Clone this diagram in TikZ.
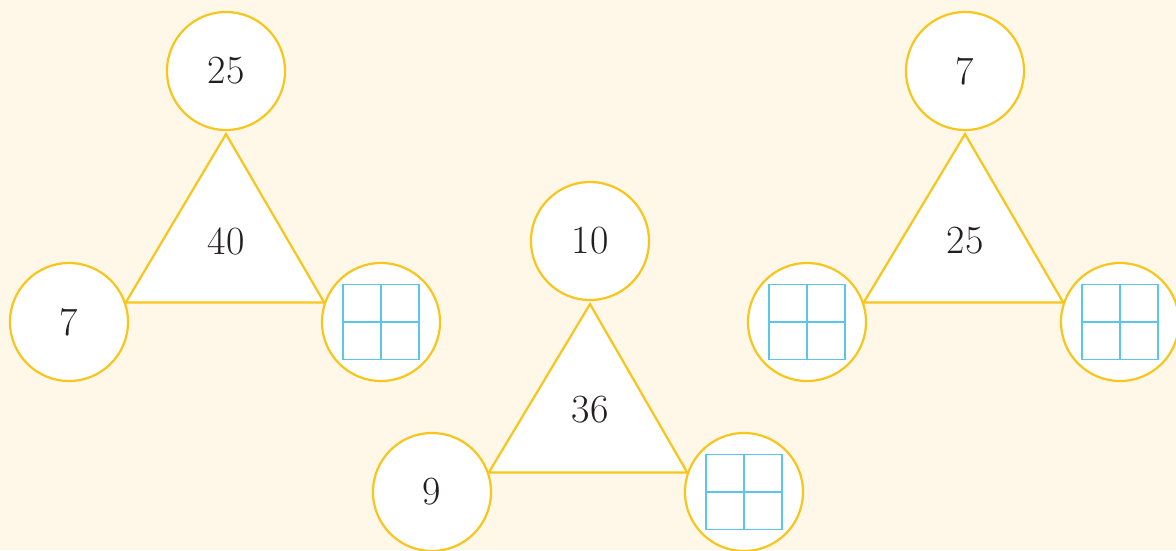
\documentclass[tikz,border=0pt]{standalone}
\usetikzlibrary{calc}
\definecolor{pagecream}{HTML}{FFF8E9}
\definecolor{ringyellow}{HTML}{F8C51C}
\definecolor{gridblue}{HTML}{5CC5EA}
\definecolor{digitgray}{HTML}{231F20}

\begin{document}
\begin{tikzpicture}[x=1pt, y=-1pt,
    ring/.style={circle, draw=ringyellow, fill=white, line width=2.2pt,
      minimum size=118pt, inner sep=0pt, text=digitgray},
    tri/.style={draw=ringyellow, fill=white, line width=2.2pt, line join=miter},
    gridline/.style={draw=gridblue, line width=1.4pt},
    font=\fontsize{40}{48}\selectfont]
      \fill[pagecream] (0,0) rectangle (1176,550);
      \useasboundingbox (0,0) rectangle (1176,550);

      % first triangle
      \node[ring] (t1) at (226,71) {25};
      \node[ring] (l1) at (69,322) {7};
      \node[ring] (r1) at (381,322) {};
      \draw[tri] ($(t1.south)+(0,3)$) -- (l1.19) -- (r1.161) -- cycle;
      \node[text=digitgray] (m1) at (226,241) {40};

      % second triangle
      \node[ring] (t2) at (590,241) {10};
      \node[ring] (l2) at (432,492) {9};
      \node[ring] (r2) at (744,492) {};
      \draw[tri] ($(t2.south)+(0,3)$) -- (l2.19) -- (r2.161) -- cycle;
      \node[text=digitgray] (m2) at (590,410) {36};

      % third triangle
      \node[ring] (t3) at (965,71) {7};
      \node[ring] (l3) at (807,322) {};
      \node[ring] (r3) at (1120,322) {};
      \draw[tri] ($(t3.south)+(0,3)$) -- (l3.19) -- (r3.161) -- cycle;
      \node[text=digitgray] (m3) at (965,241) {25};

      % empty answer boxes
      \foreach \c in {r1,r2,l3,r3} {
        \draw[gridline] ($(\c)+(-38,-37.5)$) rectangle ($(\c)+(38,37.5)$);
        \draw[gridline] ($(\c)+(0,-37.5)$) -- ($(\c)+(0,37.5)$);
        \draw[gridline] ($(\c)+(-38,0)$) -- ($(\c)+(38,0)$);
      }
    \end{tikzpicture}
\end{document}
